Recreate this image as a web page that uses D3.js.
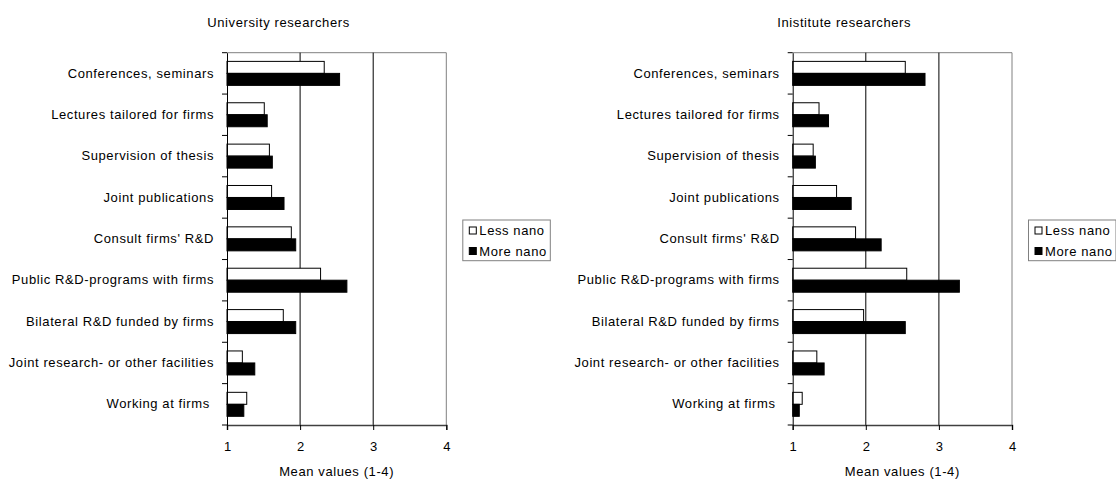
<!DOCTYPE html>
<html>
<head>
<meta charset="utf-8">
<script src="https://cdn.jsdelivr.net/npm/d3@7"></script>
<style>
  html, body { margin: 0; padding: 0; background: #fff; }
  svg { display: block; font-family: Arial, "Liberation Sans", sans-serif; }
  text { white-space: pre; }
</style>
</head>
<body>
<svg id="chart" width="1116" height="479"></svg>
<script>
const categories = [
  "Conferences, seminars",
  "Lectures tailored for firms",
  "Supervision of thesis",
  "Joint publications",
  "Consult firms' R&D",
  "Public R&D-programs with firms",
  "Bilateral R&D funded by firms",
  "Joint research- or other facilities",
  "Working at firms "
];
const seriesNames = ["Less nano", "More nano"];
const panelTitles = ["University researchers", "Inistitute researchers"];
const axisTitle = "Mean values (1-4)";
const xTicks = [1, 2, 3, 4];

const uniLess  = [2.33, 1.51, 1.58, 1.61, 1.88, 2.28, 1.77, 1.21, 1.27];
const uniMore  = [2.54, 1.55, 1.62, 1.78, 1.94, 2.64, 1.94, 1.38, 1.23];
const instLess = [2.54, 1.36, 1.28, 1.60, 1.86, 2.56, 1.97, 1.33, 1.13];
const instMore = [2.81, 1.49, 1.31, 1.80, 2.21, 3.28, 2.54, 1.43, 1.09];

const svg = d3.select("#chart");
const FS = 13;
const LS = 0.6;
const FONT = "Arial, 'Liberation Sans', sans-serif";

function drawPanel(offsetX, title, less, more) {
  const g = svg.append("g").attr("transform", `translate(${offsetX},0)`);
  const x = d3.scaleLinear().domain([1, 4]).range([227, 446.3]);
  const y = d3.scaleBand().domain(categories).range([52.7, 425])
    .paddingInner(0.42).paddingOuter(0.21);
  const ys = d3.scaleBand().domain(seriesNames).range([0, y.bandwidth()]);
  const [x0, x1] = x.range();
  const [y0, y1] = y.range();

  // title
  g.append("text").attr("x", 278.5).attr("y", 27)
    .attr("text-anchor", "middle").attr("font-size", FS).attr("letter-spacing", LS)
    .attr("fill", "#000").text(title);

  // border (top/right)
  g.append("path").attr("d", `M${x0},${y0}H${x1}V${y1}`)
    .attr("fill", "none").attr("stroke", "#808080").attr("stroke-width", 1);

  // gridlines
  g.selectAll("line.grid").data(xTicks.filter(t => t > 1 && t < 4)).join("line")
    .attr("class", "grid")
    .attr("x1", d => x(d)).attr("x2", d => x(d))
    .attr("y1", y0).attr("y2", y1)
    .attr("stroke", "#000").attr("stroke-width", 1);

  // bars
  const rows = categories.map((c, i) => ({ c, vals: [less[i], more[i]] }));
  const rg = g.selectAll("g.row").data(rows).join("g")
    .attr("transform", d => `translate(0,${y(d.c)})`);
  rg.selectAll("rect").data(d => d.vals.map((v, k) => ({ v, s: seriesNames[k] }))).join("rect")
    .attr("x", x(1))
    .attr("y", d => ys(d.s))
    .attr("width", d => x(d.v) - x(1))
    .attr("height", ys.bandwidth())
    .attr("fill", d => d.s === "Less nano" ? "#fff" : "#000")
    .attr("stroke", "#000").attr("stroke-width", 1);

  // x axis
  const xa = g.append("g").attr("transform", `translate(0,${y1})`)
    .call(d3.axisBottom(x).tickValues(xTicks).tickFormat(d3.format("d")).tickSize(5).tickPadding(12));
  xa.select(".domain").attr("stroke", "#404040").attr("stroke-width", 1.5);
  xa.selectAll(".tick line").attr("stroke", "#000");
  xa.selectAll("text").attr("font-size", FS).attr("font-family", FONT).attr("fill", "#000");

  // axis title
  g.append("text").attr("x", (x0 + x1) / 2).attr("y", 476)
    .attr("text-anchor", "middle").attr("font-size", FS).attr("letter-spacing", LS)
    .attr("fill", "#000").text(axisTitle);

  // y axis: labels, line, boundary ticks
  const ya = g.append("g").attr("transform", `translate(${x0},0)`)
    .call(d3.axisLeft(y).tickSize(0).tickPadding(13));
  ya.select(".domain").attr("stroke", "#000").attr("stroke-width", 1);
  ya.selectAll("text").attr("font-size", FS).attr("letter-spacing", LS)
    .attr("font-family", FONT).attr("fill", "#000");
  const half = (y.step() - y.bandwidth()) / 2;
  const bounds = categories.map(c => y(c) - half).concat([y1]);
  g.selectAll("line.yt").data(bounds).join("line").attr("class", "yt")
    .attr("x1", x0 - 5).attr("x2", x0)
    .attr("y1", d => d).attr("y2", d => d)
    .attr("stroke", "#000");

  // legend
  const lx = x1 + 16.5, ly = 220;
  const lg = g.append("g").attr("transform", `translate(${lx},${ly})`);
  lg.append("rect").attr("x", 0).attr("y", 0).attr("width", 87.5).attr("height", 40.7)
    .attr("fill", "#fff").attr("stroke", "#808080");
  seriesNames.forEach((s, k) => {
    const cy = 10.5 + k * 20.5;
    lg.append("rect").attr("x", 6.5).attr("y", cy - 3.5).attr("width", 7).attr("height", 7)
      .attr("fill", k === 0 ? "#fff" : "#000").attr("stroke", "#000");
    lg.append("text").attr("x", 16.5).attr("y", cy).attr("dy", "0.35em")
      .attr("font-size", FS).attr("letter-spacing", LS).attr("fill", "#000").text(s);
  });
}

drawPanel(0, panelTitles[0], uniLess, uniMore);
drawPanel(565.7, panelTitles[1], instLess, instMore);
</script>
</body>
</html>
